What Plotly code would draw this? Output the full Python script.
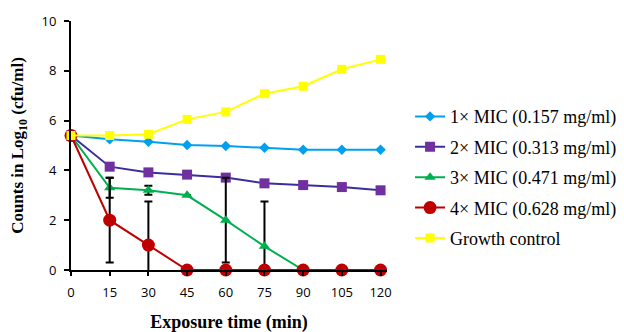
import plotly.graph_objects as go

times = [0, 15, 30, 45, 60, 75, 90, 105, 120]
mic1 = [5.4, 5.25, 5.15, 5.02, 4.98, 4.91, 4.83, 4.83, 4.83]
mic2 = [5.4, 4.15, 3.92, 3.83, 3.71, 3.48, 3.41, 3.33, 3.2]
mic3 = [5.4, 3.3, 3.2, 3.0, 2.0, 0.95, 0.0, None, None]
mic4 = [5.4, 2.0, 1.0, 0, 0, 0, 0, 0, 0]
growth = [5.4, 5.4, 5.45, 6.05, 6.35, 7.08, 7.38, 8.06, 8.46]

err1 = [0, 0, 0, 0, 0, 0, 0, 0, 0]
err2 = [0, 0, 0, 0, 0, 0.12, 0, 0, 0.1]
err3 = [0, 0.4, 0.18, 0, 1.7, 1.8, 0, 0, 0]
err4 = [0, 1.7, 1.75, 0, 0, 0, 0, 0, 0]
errg = [0, 0, 0, 0, 0, 0, 0, 0, 0]

names = ["1× MIC (0.157 mg/ml)", "2× MIC (0.313 mg/ml)", "3× MIC (0.471 mg/ml)",
         "4× MIC (0.628 mg/ml)", "Growth control"]
series = [mic1, mic2, mic3, mic4, growth]
errors = [err1, err2, err3, err4, errg]
styles = [
    dict(color="#00A0F0", symbol="diamond", size=8),
    dict(color="#7030A0", symbol="square", size=10, line="#3A2E9E"),
    dict(color="#00B050", symbol="triangle-up", size=10),
    dict(color="#C00000", symbol="circle", size=13),
    dict(color="#FFFF00", symbol="square", size=9),
]

fig = go.Figure()
for i, (nm, ys, er, st) in enumerate(zip(names, series, errors, styles)):
    fig.add_trace(go.Scatter(
        x=times, y=ys, name=nm, mode="lines+markers",
        line=dict(color=st.get("line", st["color"]), width=2),
        marker=dict(color=st["color"], symbol=st["symbol"], size=st["size"],
                    line=dict(width=0)),
        error_y=dict(type="data", array=er, visible=True, color="black",
                     thickness=2, width=4),
        legendgroup=str(i), cliponaxis=False,
    ))

fig.update_layout(
    width=624, height=332,
    margin=dict(l=63, r=245, t=13, b=70, autoexpand=False),
    paper_bgcolor="white", plot_bgcolor="white",
    showlegend=True,
    legend=dict(x=1.073, y=0.69, xanchor="left", yanchor="top",
                font=dict(family="Liberation Serif", size=18, color="black"),
                tracegroupgap=4, bgcolor="rgba(0,0,0,0)", itemwidth=30),
    xaxis=dict(range=[0, 122.5], tickvals=times, ticktext=[str(t) for t in times],
               showline=True, linecolor="black", linewidth=2, showgrid=False,
               zeroline=False, ticks="outside", ticklen=4, tickcolor="black", tickwidth=2,
               tickfont=dict(family="Open Sans", size=13, color="black"),
               ticklabelstandoff=5, automargin=False,
               title=dict(text="<b>Exposure time (min)</b>",
                          font=dict(family="Liberation Serif", size=18, color="black"),
                          standoff=16)),
    yaxis=dict(range=[0, 10], tickvals=[0, 2, 4, 6, 8, 10],
               showline=True, linecolor="black", linewidth=2, showgrid=False,
               zeroline=False, ticks="outside", ticklen=5, tickcolor="black", tickwidth=2,
               tickfont=dict(family="Open Sans", size=13, color="black"),
               ticklabelstandoff=5, automargin=False,
               title=dict(text="<b>Counts in Log<sub>10</sub> (cfu/ml)</b>",
                          font=dict(family="Liberation Serif", size=17, color="black"),
                          standoff=22)),
)

fig.write_html("out.html")
